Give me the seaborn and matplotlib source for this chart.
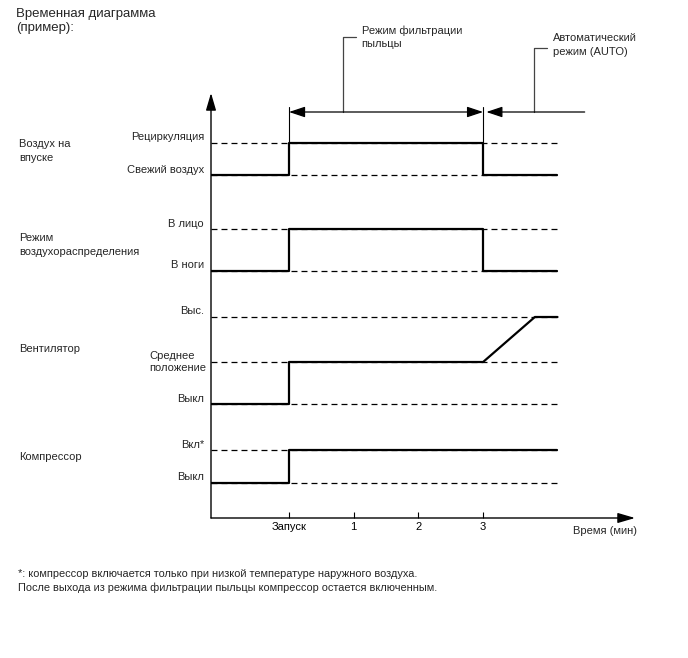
import matplotlib
matplotlib.use("Agg")
import matplotlib.pyplot as plt
import matplotlib.transforms as mtransforms
import pandas as pd
import seaborn as sns

# ---------------- data ----------------
TITLE = "Временная диаграмма\n(пример):"
SIGNAL_NAMES = ["Воздух на\nвпуске", "Режим\nвоздухораспределения", "Вентилятор", "Компрессор"]
STATE_NAMES = [
    ["Свежий воздух", "Рециркуляция"],
    ["В ноги", "В лицо"],
    ["Выкл", "Среднее\nположение", "Выс."],
    ["Выкл", "Вкл*"],
]
TIME_TICKS = [0, 1, 2, 3]
TIME_TICK_LABELS = ["Запуск", "1", "2", "3"]
XLABEL = "Время (мин)"
T_START, T_END = -1.2, 4.15

intake_t = [T_START, 0, 0, 3, 3, T_END]
intake_s = [0, 0, 1, 1, 0, 0]
mode_t = [T_START, 0, 0, 3, 3, T_END]
mode_s = [0, 0, 1, 1, 0, 0]
fan_t = [T_START, 0, 0, 3, 3.8, T_END]
fan_s = [0, 0, 1, 1, 2, 2]
comp_t = [T_START, 0, 0, T_END]
comp_s = [0, 0, 1, 1]

PHASE_NAMES = ["Режим фильтрации\nпыльцы", "Автоматический\nрежим (AUTO)"]
PHASE_START = [0, 3]
PHASE_END = [3, 4.57]
PHASE_LEADER_T = [0.83, 3.79]

FOOTNOTE = ("*: компрессор включается только при низкой температуре наружного воздуха.\n"
            "После выхода из режима фильтрации пыльцы компрессор остается включенным.")

# ---------------- layout ----------------
W, H, DPI = 688, 658, 100
LANE_LEVELS = [[343, 375], [247, 289], [114, 156, 201], [35, 68]]  # diagram units above time axis
NAME_Y_PX = [151, 245, 349, 457]
ARROW_ROW = 406
MARK_TOP = 411
LEADER_TOP = [481, 470]
LEADER_LEN = 0.2
LEADER_TEXT_DY = [0, 3]

sns.set_style("white")
plt.rcParams["font.family"] = ["Liberation Sans", "DejaVu Sans"]
plt.rcParams["lines.scale_dashes"] = False

fig = plt.figure(figsize=(W / DPI, H / DPI), dpi=DPI)
fig.patch.set_facecolor("white")
PX = mtransforms.Affine2D().scale(1 / W, -1 / H).translate(0, 1) + fig.transFigure

ax = fig.add_axes([211 / W, (H - 518) / H, 424 / W, 425 / H])
ax.set_xlim(-1.2056, 5.348)
ax.set_ylim(0, 425)
ax.patch.set_alpha(0)
for s in ax.spines.values():
    s.set_visible(False)
ax.set_yticks([])

LBL = mtransforms.blended_transform_factory(PX, ax.transData)

# signals (long table)
rows = []
for name, ts, ss, levels in zip(SIGNAL_NAMES, [intake_t, mode_t, fan_t, comp_t],
                                [intake_s, mode_s, fan_s, comp_s], LANE_LEVELS):
    for t, s in zip(ts, ss):
        rows.append({"signal": name, "t": t, "y": levels[s]})
df = pd.DataFrame(rows)

# dashed level guides
for levels in LANE_LEVELS:
    ax.hlines(levels, T_START, T_END, colors="black", linewidth=0.9,
              linestyles=[(0, (4.3, 2.9))], zorder=1)

sns.lineplot(data=df, x="t", y="y", units="signal", estimator=None, sort=False,
             color="black", linewidth=1.6, ax=ax, zorder=3)
ax.set_ylabel("")

# axes arrows
arrow_kw = dict(arrowstyle="-|>,head_length=0.75,head_width=0.22", mutation_scale=14,
                lw=1.0, color="black", shrinkA=0, shrinkB=0)
ax.annotate("", xy=(1, 0), xytext=(0, 0), xycoords="axes fraction", arrowprops=arrow_kw)
ax.annotate("", xy=(0, 1), xytext=(0, 0), xycoords="axes fraction", arrowprops=arrow_kw)

ax.set_xticks(TIME_TICKS, TIME_TICK_LABELS)
ax.tick_params(axis="x", direction="in", length=4, width=0.8, pad=3, labelsize=8,
               colors="black", bottom=True)
ax.set_xlabel(XLABEL, fontsize=8, ha="right", va="center")
ax.xaxis.set_label_coords(1.005, -13 / 425)

# state labels
for levels, names in zip(LANE_LEVELS, STATE_NAMES):
    for lv, nm in zip(levels, names):
        if "\n" in nm:
            ax.text(149, lv, nm, transform=LBL, ha="left", va="center", fontsize=8,
                    linespacing=1.35)
        else:
            ax.text(204, lv + 5.5, nm, transform=LBL, ha="right", va="center", fontsize=8)

# signal names
for y, nm in zip(NAME_Y_PX, SIGNAL_NAMES):
    fig.text(19, y, nm, transform=PX, ha="left", va="center", fontsize=8,
             linespacing=1.4)

# phase markers and arrows
for t in [PHASE_START[0], PHASE_END[0]]:
    ax.plot([t, t], [LANE_LEVELS[0][1], MARK_TOP], color="black", lw=0.8, clip_on=False)
phase_kw = dict(arrowstyle="-|>,head_length=0.75,head_width=0.25", mutation_scale=13,
                lw=0.9, color="black", shrinkA=0, shrinkB=0)
ax.annotate("", xy=(PHASE_END[0], ARROW_ROW), xytext=(PHASE_START[0], ARROW_ROW),
            arrowprops=dict(phase_kw, arrowstyle="<|-|>,head_length=0.75,head_width=0.25"),
            annotation_clip=False)
ax.annotate("", xy=(PHASE_START[1] + 0.05, ARROW_ROW), xytext=(PHASE_END[1], ARROW_ROW),
            arrowprops=phase_kw, annotation_clip=False)
for lt, top, dy, nm in zip(PHASE_LEADER_T, LEADER_TOP, LEADER_TEXT_DY, PHASE_NAMES):
    ax.plot([lt, lt, lt + LEADER_LEN], [ARROW_ROW, top, top], color="#444444", lw=0.9,
            clip_on=False)
    ax.annotate(nm, xy=(lt + LEADER_LEN, top), xytext=(6, dy), textcoords="offset pixels",
                ha="left", va="center", fontsize=8, linespacing=1.4, annotation_clip=False)

# title and footnote
fig.text(16, 21, TITLE, transform=PX, ha="left", va="center", fontsize=9.5, linespacing=1.25)
fig.text(18, 581, FOOTNOTE, transform=PX, ha="left", va="center", fontsize=7.95,
         linespacing=1.4)

fig.savefig("out.png", dpi=DPI, facecolor="white")
